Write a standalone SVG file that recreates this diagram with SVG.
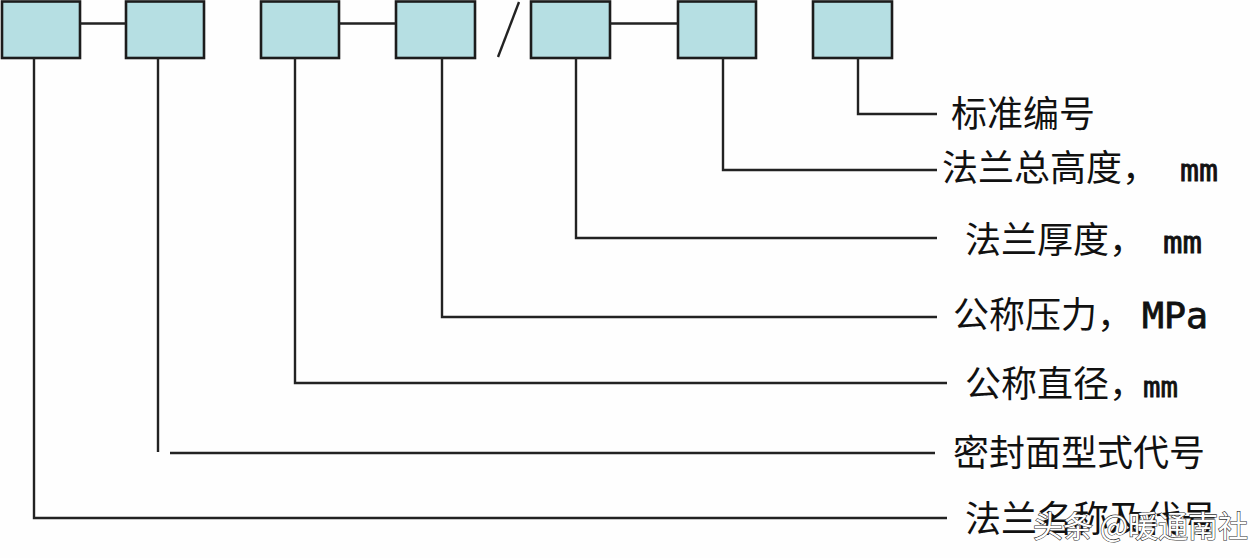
<svg xmlns="http://www.w3.org/2000/svg" width="1260" height="558" viewBox="0 0 1260 558">
<style>
.box{fill:#b6dfe3;stroke:#1c1c1c;stroke-width:2.6}
.ln{fill:none;stroke:#222;stroke-width:2.4}
.lb{font-family:"Noto Sans CJK SC","DejaVu Sans",sans-serif;fill:#111;font-size:36px}
.lat{font-family:"DejaVu Sans Mono","Liberation Mono",monospace;fill:#111;stroke:#111;stroke-width:0.8}
.wm{font-family:"Noto Sans CJK SC",sans-serif;font-size:30px;fill:#fff;stroke:#333;stroke-width:1.2;paint-order:stroke}
</style>
<rect width="1260" height="558" fill="#fefefe"/>
<g id="box1"><rect class="box" x="2" y="1.5" width="78" height="56.5"/></g>
<g id="box2"><rect class="box" x="126" y="1.5" width="78" height="56.5"/></g>
<g id="box3"><rect class="box" x="261" y="1.5" width="78" height="56.5"/></g>
<g id="box4"><rect class="box" x="396" y="1.5" width="79" height="56.5"/></g>
<g id="box5"><rect class="box" x="531" y="1.5" width="79" height="56.5"/></g>
<g id="box6"><rect class="box" x="678" y="1.5" width="78" height="56.5"/></g>
<g id="box7"><rect class="box" x="813" y="1.5" width="79" height="56.5"/></g>
<g id="connectors">
<path class="ln" d="M80 23.5H126M339 23.5H396M610 23.5H678"/>
<path class="ln" d="M498 57L519 2"/>
<path class="ln" d="M858 58V114H937"/>
<path class="ln" d="M723 58V170H937"/>
<path class="ln" d="M576 58V238H937"/>
<path class="ln" d="M442 58V317H937"/>
<path class="ln" d="M295 58V383H947"/>
<path class="ln" d="M158 58V452"/>
<path class="ln" d="M170 453H935"/>
<path class="ln" d="M34 58V518H947"/>
</g>
<g id="label7"><text class="lb" x="951" y="127" font-size="39">标准编号</text></g>
<g id="label6"><text class="lb" x="942" y="181" font-size="37.5">法兰总高度，<tspan class="lat" x="1180" font-size="31" textLength="38" lengthAdjust="spacingAndGlyphs">mm</tspan></text></g>
<g id="label5"><text class="lb" x="965" y="253" font-size="36">法兰厚度，<tspan class="lat" x="1163" font-size="31" textLength="39" lengthAdjust="spacingAndGlyphs">mm</tspan></text></g>
<g id="label4"><text class="lb" x="953" y="328" font-size="38">公称压力，<tspan class="lat" x="1142" font-size="35" textLength="66" lengthAdjust="spacingAndGlyphs">MPa</tspan></text></g>
<g id="label3"><text class="lb" x="965" y="397" font-size="35">公称直径，<tspan class="lat" x="1143" font-size="29" textLength="35" lengthAdjust="spacingAndGlyphs">mm</tspan></text></g>
<g id="label2"><text class="lb" x="953" y="466" font-size="35">密封面型式代号</text></g>
<g id="label1"><text class="lb" x="965" y="532" font-size="35">法兰名称及代号</text></g>
<g id="watermark"><text class="wm" x="1033" y="537">头条 @暖通南社</text></g>
</svg>
